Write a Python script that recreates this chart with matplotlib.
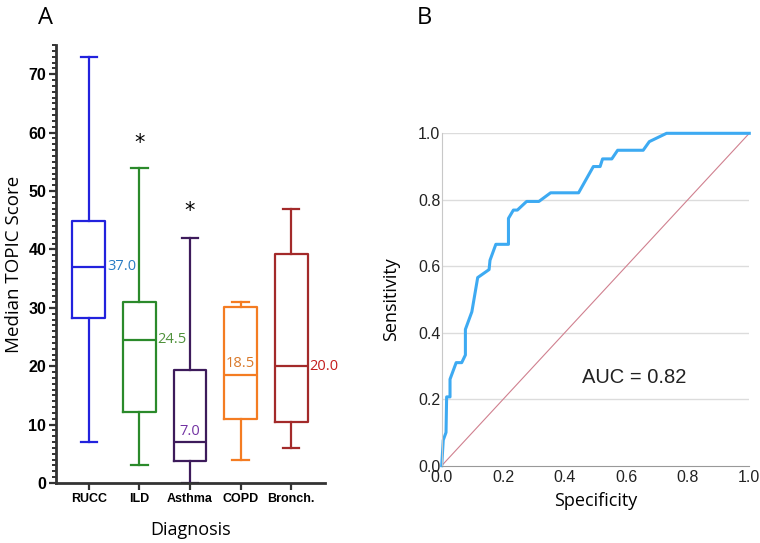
import matplotlib
matplotlib.use("Agg")
import matplotlib.pyplot as plt
from matplotlib.ticker import MultipleLocator

# panel A data
diagnoses = ["RUCC", "ILD", "Asthma", "COPD", "Bronch."]
whisker_low = [7.0, 3.0, 0.0, 4.0, 6.0]
q1 = [28.2, 12.2, 3.7, 11.0, 10.4]
medians = [37.0, 24.5, 7.0, 18.5, 20.0]
q3 = [44.9, 31.0, 19.4, 30.1, 39.3]
whisker_high = [73.0, 54.0, 42.0, 31.0, 47.0]
median_labels = ["37.0", "24.5", "7.0", "18.5", "20.0"]
star_groups = ["ILD", "Asthma"]
star_heights = [58.3, 46.5]

box_colors = ["#2222dd", "#2b8a2b", "#3d1b5b", "#f47c22", "#a32a2a"]
label_colors = ["#2a7cc4", "#4f913b", "#7232a2", "#d97a2c", "#c41c1c"]

# panel B data (ROC curve)
specificity = [0.0, 0.005, 0.014, 0.016, 0.027, 0.027, 0.047, 0.065, 0.077, 0.077,
               0.098, 0.117, 0.154, 0.157, 0.176, 0.217, 0.217, 0.233, 0.246, 0.276,
               0.316, 0.354, 0.445, 0.493, 0.515, 0.523, 0.553, 0.572, 0.655, 0.675,
               0.731, 1.0]
sensitivity = [0.0, 0.077, 0.10, 0.207, 0.207, 0.26, 0.31, 0.31, 0.333, 0.41,
               0.463, 0.566, 0.59, 0.618, 0.666, 0.666, 0.744, 0.769, 0.769, 0.795,
               0.795, 0.821, 0.821, 0.90, 0.90, 0.923, 0.923, 0.949, 0.949, 0.975,
               1.0, 1.0]
auc_text = "AUC = 0.82"

fig = plt.figure(figsize=(7.6, 5.43), dpi=100)

# ---------- panel A ----------
axA = fig.add_axes([0.0737, 0.1105, 0.3539, 0.8065])
positions = list(range(len(diagnoses)))
stats = []
for i, name in enumerate(diagnoses):
    stats.append({"label": name, "med": medians[i], "q1": q1[i], "q3": q3[i],
                  "whislo": whisker_low[i], "whishi": whisker_high[i], "fliers": []})
bp = axA.bxp(stats, positions=positions, widths=0.65, showfliers=False,
             patch_artist=False)
for i, c in enumerate(box_colors):
    bp["boxes"][i].set(color=c, linewidth=1.6)
    bp["medians"][i].set(color=c, linewidth=1.6)
    for w in bp["whiskers"][2 * i:2 * i + 2]:
        w.set(color=c, linewidth=1.6)
    for cap in bp["caps"][2 * i:2 * i + 2]:
        cap.set(color=c, linewidth=1.6)

# median value labels
label_font = dict(family="Open Sans", fontsize=10.5)
for i, txt in enumerate(median_labels):
    if diagnoses[i] in ("Asthma", "COPD"):
        axA.text(positions[i], medians[i] + 0.6, txt, color=label_colors[i],
                 ha="center", va="bottom", **label_font)
    else:
        axA.text(positions[i] + 0.36, medians[i], txt, color=label_colors[i],
                 ha="left", va="center", **label_font)

for g, h in zip(star_groups, star_heights):
    axA.text(diagnoses.index(g), h, "*", ha="center", va="center",
             fontsize=15, color="black")

axA.set_xlim(-0.65, 4.67)
axA.set_ylim(0, 75)
axA.set_xticks(positions)
axA.set_xticklabels(diagnoses, fontdict={"family": "Liberation Sans",
                                         "weight": "bold", "size": 9})
axA.set_yticks(range(0, 71, 10))
axA.set_yticklabels([str(v) for v in range(0, 71, 10)],
                    fontdict={"family": "Liberation Sans", "weight": "bold",
                              "size": 11.5})
axA.yaxis.set_minor_locator(MultipleLocator(1))
axA.tick_params(axis="both", which="major", width=1.6, length=5, color="#333333",
                pad=2)
axA.tick_params(axis="y", which="minor", width=1.4, length=3.2, color="#333333")
axA.spines["top"].set_visible(False)
axA.spines["right"].set_visible(False)
axA.spines["left"].set_linewidth(2)
axA.spines["bottom"].set_linewidth(2)
axA.spines["left"].set_color("#333333")
axA.spines["bottom"].set_color("#333333")
axA.set_ylabel("Median TOPIC Score", family="Open Sans", fontsize=13.5, labelpad=4)
axA.set_xlabel("Diagnosis", family="Open Sans", fontsize=13, labelpad=12)

# ---------- panel B ----------
axB = fig.add_axes([0.5812, 0.1424, 0.4047, 0.6121])
axB.set_xlim(0, 1)
axB.set_ylim(0, 1)
for y in [0.2, 0.4, 0.6, 0.8, 1.0]:
    axB.axhline(y, color="#dcdcdc", linewidth=1, zorder=0)
axB.plot([0, 1], [0, 1], color="#d0808f", linewidth=0.8, zorder=1)
axB.plot(specificity, sensitivity, color="#3daaf2", linewidth=2.2, zorder=2,
         clip_on=False)
axB.text(0.625, 0.264, auc_text, ha="center", va="center",
         family="Liberation Sans", fontsize=14.5, color="#222222")
ticks = [0.0, 0.2, 0.4, 0.6, 0.8, 1.0]
axB.set_xticks(ticks)
axB.set_yticks(ticks)
axB.set_xticklabels([f"{t:.1f}" for t in ticks], family="Liberation Sans",
                    fontsize=11.5, color="#222222")
axB.set_yticklabels([f"{t:.1f}" for t in ticks], family="Liberation Sans",
                    fontsize=11.5, color="#222222")
axB.tick_params(axis="x", length=0, pad=3)
axB.tick_params(axis="y", length=0, pad=1)
for s in ["top", "right"]:
    axB.spines[s].set_visible(False)
axB.spines["left"].set_color("#c8c8c8")
axB.spines["bottom"].set_color("#999999")
axB.set_xlabel("Specificity", family="Open Sans", fontsize=13, labelpad=5)
axB.set_ylabel("Sensitivity", family="Open Sans", fontsize=13, labelpad=13)

fig.text(46 / 760, 1 - 18 / 543, "A", family="Open Sans", fontsize=17,
         ha="center", va="center")
fig.text(424 / 760, 1 - 18 / 543, "B", family="Open Sans", fontsize=17,
         ha="center", va="center")

fig.savefig("out.png", dpi=100)
